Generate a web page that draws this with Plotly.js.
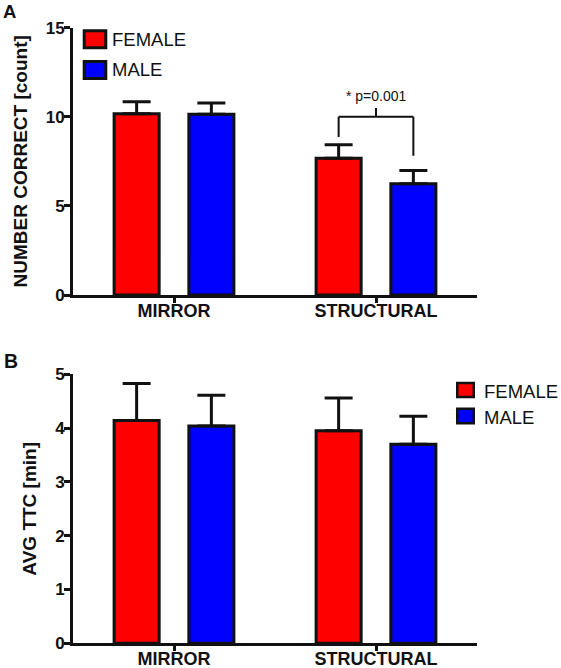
<!DOCTYPE html>
<html>
<head>
<meta charset="utf-8">
<script src="https://cdn.plot.ly/plotly-3.0.1.min.js"></script>
<style>html,body{margin:0;padding:0;background:#fff;}#chart{width:561px;height:668px;}</style>
</head>
<body>
<div id="chart"></div>
<script>
// ---- data ----
const categories = ['MIRROR', 'STRUCTURAL'];
const seriesNames = ['FEMALE', 'MALE'];
// Panel A: number correct [count]
const correctFemale = [10.17, 7.68];
const correctFemaleErr = [0.67, 0.75];
const correctMale = [10.15, 6.25];
const correctMaleErr = [0.62, 0.73];
// Panel B: avg TTC [min]
const ttcFemale = [4.14, 3.95];
const ttcFemaleErr = [0.69, 0.61];
const ttcMale = [4.04, 3.70];
const ttcMaleErr = [0.57, 0.52];
// significance annotation
const pLabel = '* p=0.001';
const yTicksA = [0, 5, 10, 15];
const yTicksB = [0, 1, 2, 3, 4, 5];
const panelLabels = ['A', 'B'];
const yTitles = ['NUMBER CORRECT [count]', 'AVG TTC [min]'];

// ---- styles ----
const FONT = 'Liberation Sans, Arial, Helvetica, sans-serif';
const colors = ['#FF0000', '#0000FF'];
const INK = '#111111';
const W = 561, H = 668;
const px = v => v / W;           // pixel x -> paper
const py = v => 1 - v / H;       // pixel y -> paper
const BW = 0.223, OFF = 0.185;

function barTrace(name, vals, errs, idx, xa, ya) {
  return {
    type: 'bar', name: name, x: categories, y: vals,
    xaxis: xa, yaxis: ya,
    width: BW, offset: (idx === 0 ? -OFF : OFF) - BW / 2,
    marker: {color: colors[idx], line: {color: INK, width: 3}},
    error_y: {type: 'data', symmetric: false, array: errs, arrayminus: errs.map(() => 0),
              thickness: 3, width: 14, color: INK},
    showlegend: false, hoverinfo: 'skip'
  };
}

const data = [
  barTrace(seriesNames[0], correctFemale, correctFemaleErr, 0, 'x', 'y'),
  barTrace(seriesNames[1], correctMale, correctMaleErr, 1, 'x', 'y'),
  barTrace(seriesNames[0], ttcFemale, ttcFemaleErr, 0, 'x2', 'y2'),
  barTrace(seriesNames[1], ttcMale, ttcMaleErr, 1, 'x2', 'y2')
];

const xCommon = {
  type: 'category', range: [-0.5, 1.5], domain: [px(73), px(477)],
  showline: true, linewidth: 3, linecolor: INK, showgrid: false, zeroline: false,
  ticks: 'outside', ticklen: 5, tickwidth: 3, tickcolor: INK, ticklabelstandoff: -8,
  tickfont: {family: FONT, size: 18, weight: 'bold', color: INK}, fixedrange: true
};
const yCommon = {
  showline: true, linewidth: 3, linecolor: INK, showgrid: false, zeroline: false,
  ticks: 'outside', ticklen: 6, tickwidth: 3, tickcolor: INK, ticklabelstandoff: -4,
  tickfont: {family: FONT, size: 17, weight: 'bold', color: INK}, fixedrange: true
};

// significance bracket (data coords of panel A)
const fX = 1 - OFF, mX = 1 + OFF;
const shapes = [
  {type: 'line', xref: 'x', yref: 'y', x0: fX, x1: mX, y0: 10.0, y1: 10.0, line: {color: INK, width: 2}},
  {type: 'line', xref: 'x', yref: 'y', x0: fX, x1: fX, y0: 10.0, y1: 8.86, line: {color: INK, width: 2}},
  {type: 'line', xref: 'x', yref: 'y', x0: mX, x1: mX, y0: 10.0, y1: 7.81, line: {color: INK, width: 2}},
  {type: 'line', xref: 'x', yref: 'y', x0: 1, x1: 1, y0: 10.0, y1: 10.49, line: {color: INK, width: 2}}
];
const annotations = [
  {xref: 'x', yref: 'y', x: 1, y: 10.58, xanchor: 'center', yanchor: 'bottom', showarrow: false,
   text: pLabel, font: {family: FONT, size: 14, color: INK}},
  {xref: 'paper', yref: 'paper', x: px(0.5), y: py(11.5), xanchor: 'left', yanchor: 'middle', showarrow: false,
   text: panelLabels[0], font: {family: FONT, size: 18.5, weight: 'bold', color: INK}},
  {xref: 'paper', yref: 'paper', x: px(1.5), y: py(360.5), xanchor: 'left', yanchor: 'middle', showarrow: false,
   text: panelLabels[1], font: {family: FONT, size: 19.5, weight: 'bold', color: INK}}
];

// custom legends (boxes + labels)
function addLegend(x0, x1, boxes, textX, textYs, lw) {
  boxes.forEach((b, i) => {
    shapes.push({type: 'rect', xref: 'paper', yref: 'paper', x0: px(x0 + lw / 2), x1: px(x1 - lw / 2),
      y0: py(b[0] + lw / 2), y1: py(b[1] - lw / 2), fillcolor: colors[i], line: {color: INK, width: lw}});
    annotations.push({xref: 'paper', yref: 'paper', x: px(textX), y: py(textYs[i]), xanchor: 'left',
      yanchor: 'middle', showarrow: false, text: seriesNames[i],
      font: {family: FONT, size: 18.5, color: INK}});
  });
}
addLegend(82.7, 107.3, [[29.3, 49.3], [60, 80]], 110, [39.5, 69.5], 3);
addLegend(456, 475, [[381.7, 398.3], [407.5, 424.5]], 481.5, [391, 417], 2.5);

const layout = {
  width: W, height: H, margin: {l: 0, r: 0, t: 0, b: 0},
  paper_bgcolor: '#fff', plot_bgcolor: '#fff', barmode: 'overlay', showlegend: false,
  font: {family: FONT, color: INK},
  xaxis: Object.assign({}, xCommon, {anchor: 'y'}),
  xaxis2: Object.assign({}, xCommon, {anchor: 'y2'}),
  yaxis: Object.assign({}, yCommon, {anchor: 'x', domain: [py(295), py(27.7)], range: [0, 15],
    tickvals: yTicksA, ticktext: yTicksA.map(String),
    title: {text: yTitles[0], standoff: 14, font: {family: FONT, size: 19, weight: 'bold', color: INK}}}),
  yaxis2: Object.assign({}, yCommon, {anchor: 'x2', domain: [py(643.3), py(374.3)], range: [0, 5],
    tickvals: yTicksB, ticktext: yTicksB.map(String),
    title: {text: yTitles[1], standoff: 14, font: {family: FONT, size: 19, weight: 'bold', color: INK}}}),
  shapes: shapes, annotations: annotations
};

Plotly.newPlot('chart', data, layout, {displayModeBar: false, staticPlot: true});
</script>
</body>
</html>
